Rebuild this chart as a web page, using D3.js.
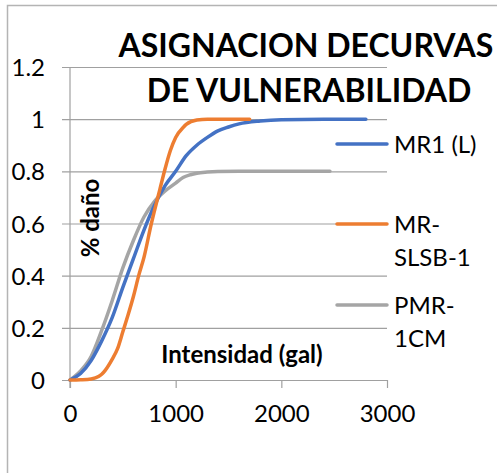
<!DOCTYPE html>
<html>
<head>
<meta charset="utf-8">
<script src="https://cdn.jsdelivr.net/npm/d3@7"></script>
<style>
  html, body { margin: 0; padding: 0; background: #fff; }
  svg { display: block; }
  text { font-family: Lato, "Open Sans", sans-serif; fill: #000; }
</style>
</head>
<body>
<svg id="chart" width="497" height="473"></svg>
<script>
// Intensity (gal) sample points and damage ratio for each vulnerability curve
const mr1X   = [0, 100, 200, 300, 400, 500, 600, 700, 800, 900, 1000, 1100, 1200, 1300, 1400, 1500, 1600, 1800, 2000, 2400, 2800];
const mr1Y   = [0, 0.025, 0.075, 0.15, 0.24, 0.355, 0.465, 0.575, 0.67, 0.745, 0.8, 0.86, 0.9, 0.93, 0.955, 0.97, 0.982, 0.993, 0.998, 1.0, 1.0];

const slsbX  = [0, 100, 200, 270, 300, 335, 400, 450, 500, 550, 600, 650, 700, 770, 800, 850, 900, 950, 1000, 1075, 1100, 1200, 1300, 1500, 1700];
const slsbY  = [0, 0.001, 0.004, 0.013, 0.022, 0.038, 0.08, 0.12, 0.185, 0.25, 0.32, 0.4, 0.47, 0.6, 0.65, 0.73, 0.81, 0.88, 0.93, 0.97, 0.98, 0.997, 1.0, 1.0, 1.0];

const pmrX   = [0, 100, 200, 300, 400, 500, 600, 700, 800, 900, 1000, 1070, 1140, 1200, 1300, 1400, 1600, 2000, 2460];
const pmrY   = [0, 0.035, 0.09, 0.19, 0.305, 0.43, 0.535, 0.625, 0.685, 0.725, 0.755, 0.776, 0.787, 0.793, 0.797, 0.799, 0.8, 0.8, 0.8];

const seriesNames  = ["MR1 (L)", "MR-\nSLSB-1", "PMR-\n1CM"];
const seriesColors = ["#4472C4", "#ED7D31", "#A5A5A5"];
const xTicks = [0, 1000, 2000, 3000];
const yTicks = [0, 0.2, 0.4, 0.6, 0.8, 1.0, 1.2];
const titleLines = ["ASIGNACION DECURVAS", "DE VULNERABILIDAD"];
const xTitle = "Intensidad (gal)";
const yTitle = "% daño";

const series = [
  { name: seriesNames[0], color: seriesColors[0], pts: mr1X.map((x, i) => [x, mr1Y[i]]) },
  { name: seriesNames[1], color: seriesColors[1], pts: slsbX.map((x, i) => [x, slsbY[i]]) },
  { name: seriesNames[2], color: seriesColors[2], pts: pmrX.map((x, i) => [x, pmrY[i]]) }
];

const svg = d3.select("#chart");

// chart frame (extends past the right and bottom edges)
svg.append("rect")
  .attr("x", 7.5).attr("y", 5.5)
  .attr("width", 520).attr("height", 500)
  .attr("fill", "#fff").attr("stroke", "#b4b4b4").attr("stroke-width", 1.5);

const x = d3.scaleLinear().domain([0, 3000]).range([70, 387]);
const y = d3.scaleLinear().domain([0, 1.2]).range([380, 67]);

// horizontal gridlines, extending left as tick marks
const gridAxis = d3.axisLeft(y).tickValues(yTicks).tickSize(-(387 - 62)).tickFormat(d => d3.format("")(+d.toFixed(1)));
const gy = svg.append("g").attr("transform", "translate(62,0)").call(gridAxis);
gy.select(".domain").remove();
gy.selectAll(".tick line").attr("stroke", "#a0a0a0").attr("stroke-width", 1.2);
gy.selectAll(".tick text")
  .attr("x", -17).attr("dy", "0.36em")
  .style("font-size", "24px").style("font-family", "Lato, sans-serif");

// vertical axis line
svg.append("line")
  .attr("x1", x(0)).attr("x2", x(0)).attr("y1", y(1.2)).attr("y2", 388)
  .attr("stroke", "#a0a0a0").attr("stroke-width", 1.2);

// horizontal axis with downward ticks
const gx = svg.append("g").attr("transform", "translate(0,380)")
  .call(d3.axisBottom(x).tickValues(xTicks).tickSize(8).tickPadding(18).tickFormat(d3.format("d")));
gx.select(".domain").remove();
gx.selectAll(".tick line").attr("stroke", "#a0a0a0").attr("stroke-width", 1.2);
gx.selectAll(".tick text").attr("dy", "0.68em").style("font-size", "24px").style("font-family", "Lato, sans-serif");

// curves
const line = d3.line().x(d => x(d[0])).y(d => y(d[1])).curve(d3.curveMonotoneX);
svg.append("g").selectAll("path")
  .data([series[2], series[0], series[1]])
  .join("path")
  .attr("d", d => line(d.pts))
  .attr("fill", "none")
  .attr("stroke", d => d.color)
  .attr("stroke-width", 3.5)
  .attr("stroke-linecap", "round")
  .attr("stroke-linejoin", "round");

// title
svg.append("g").selectAll("text")
  .data(titleLines)
  .join("text")
  .attr("x", (d, i) => i === 0 ? 306 : 309)
  .attr("y", (d, i) => i === 0 ? 57 : 102)
  .attr("text-anchor", "middle")
  .style("font-size", "32px").style("font-weight", "700")
  .text(d => d);

// axis titles
svg.append("text")
  .attr("x", 242).attr("y", 363)
  .attr("text-anchor", "middle")
  .style("font-size", "24px").style("font-weight", "700")
  .text(xTitle);

svg.append("text")
  .attr("transform", "translate(99,218) rotate(-90)")
  .attr("text-anchor", "middle")
  .style("font-size", "24px").style("font-weight", "700")
  .text(yTitle);

// legend
const legendRows = [144, 224, 305];
const leg = svg.append("g").selectAll("g")
  .data(series)
  .join("g")
  .attr("transform", (d, i) => `translate(0,${legendRows[i]})`);
leg.append("line")
  .attr("x1", 337).attr("x2", 387).attr("y1", 0).attr("y2", 0)
  .attr("stroke", d => d.color).attr("stroke-width", 3.5).attr("stroke-linecap", "round");
leg.append("text")
  .attr("x", 394).attr("y", 8.5)
  .style("font-size", "24px")
  .selectAll("tspan")
  .data(d => d.name.split("\n"))
  .join("tspan")
  .attr("x", 394)
  .attr("dy", (d, i) => i === 0 ? 0 : 33)
  .text(d => d);
</script>
</body>
</html>
